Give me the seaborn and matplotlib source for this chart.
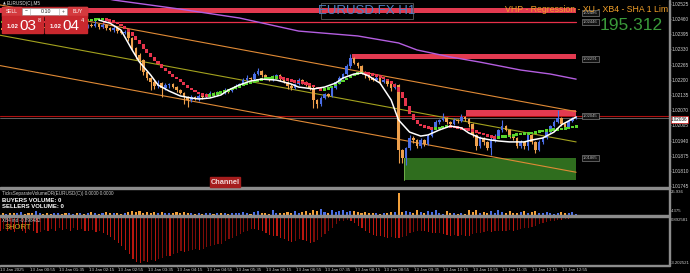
import numpy as np
import matplotlib
matplotlib.use("Agg")
import matplotlib.pyplot as plt
import seaborn as sns
from matplotlib.patches import Rectangle

# ---------------- data (prices in points, 1 point = 0.00001) ----------------
open0_pts = 102426
close_pts = [
    102422, 102413, 102426, 102418, 102409, 102422, 102431, 102418, 102413, 102405,
    102418, 102426, 102422, 102413, 102409, 102418, 102426, 102422, 102413, 102418,
    102426, 102422, 102431, 102426, 102435, 102431, 102439, 102426, 102435, 102422,
    102413, 102422, 102409, 102401, 102405, 102379, 102336, 102306, 102285, 102233,
    102208, 102191, 102174, 102186, 102165, 102178, 102182, 102169, 102156, 102144,
    102126, 102114, 102126, 102118, 102131, 102126, 102139, 102144, 102135, 102148,
    102144, 102156, 102152, 102165, 102174, 102182, 102199, 102208, 102203, 102225,
    102238, 102221, 102208, 102199, 102212, 102221, 102203, 102191, 102174, 102165,
    102182, 102199, 102191, 102178, 102165, 102114, 102096, 102122, 102139, 102131,
    102165, 102191, 102208, 102225, 102259, 102293, 102272, 102259, 102233, 102221,
    102208, 102199, 102208, 102191, 102199, 102182, 102165, 102178, 101899, 101865,
    101908, 101951, 101942, 101916, 101942, 101925, 101959, 101994, 102019, 102028,
    102036, 102019, 102011, 102028, 102024, 102041, 102032, 102011, 101964, 101916,
    101951, 101934, 101908, 101942, 101959, 101985, 102002, 101985, 101964, 101951,
    101916, 101934, 101916, 101964, 101934, 101899, 101934, 101951, 101976, 102002,
    102019, 102036, 102011, 101998, 102024, 102036, 102041]
upper_wick_pts = [
    6, 4, 9, 4, 6, 4, 9, 6, 4, 6,
    4, 9, 6, 4, 6, 9, 4, 6, 4, 6,
    9, 4, 6, 4, 6, 9, 26, 6, 9, 4,
    6, 9, 4, 6, 9, 4, 6, 4, 9, 6,
    4, 6, 9, 13, 6, 9, 6, 4, 6, 4,
    6, 4, 9, 6, 9, 4, 6, 9, 4, 6,
    4, 9, 6, 4, 9, 6, 9, 13, 6, 9,
    13, 6, 4, 6, 9, 6, 4, 6, 4, 9,
    6, 9, 4, 6, 4, 9, 6, 9, 6, 4,
    9, 6, 9, 6, 9, 17, 6, 4, 6, 4,
    6, 4, 9, 6, 9, 4, 6, 9, 4, 6,
    4, 13, 9, 6, 9, 4, 9, 6, 9, 6,
    21, 6, 4, 9, 6, 13, 6, 4, 6, 4,
    9, 6, 4, 13, 9, 6, 26, 4, 6, 4,
    6, 9, 4, 13, 6, 4, 9, 6, 9, 6,
    9, 34, 6, 4, 9, 6, 4]
lower_wick_pts = [
    4, 6, 4, 9, 4, 6, 4, 9, 6, 4,
    6, 4, 9, 6, 4, 6, 4, 9, 6, 4,
    6, 9, 4, 6, 4, 6, 4, 9, 6, 9,
    4, 6, 9, 4, 6, 13, 9, 17, 43, 13,
    9, 34, 13, 9, 38, 9, 13, 6, 9, 6,
    30, 30, 9, 6, 9, 6, 4, 9, 6, 4,
    6, 4, 9, 6, 4, 6, 4, 6, 9, 4,
    6, 9, 4, 6, 4, 6, 9, 4, 13, 9,
    6, 4, 9, 6, 9, 34, 17, 9, 6, 4,
    6, 4, 9, 4, 6, 9, 6, 9, 6, 13,
    9, 6, 4, 9, 6, 9, 13, 6, 56, 21,
    30, 9, 13, 9, 6, 9, 6, 4, 6, 9,
    6, 9, 6, 4, 9, 6, 9, 13, 9, 17,
    9, 13, 9, 30, 9, 6, 9, 6, 13, 9,
    9, 6, 13, 17, 9, 13, 6, 9, 6, 4,
    6, 4, 9, 6, 4, 6, 4]
sha_pts = [
    102448, 102448, 102443, 102448, 102452, 102448, 102448, 102443, 102448, 102448,
    102452, 102448, 102448, 102443, 102448, 102448, 102452, 102452, 102448, 102448,
    102452, 102452, 102456, 102456, 102456, 102456, 102461, 102461, 102461, 102456,
    102452, 102448, 102439, 102431, 102418, 102405, 102388, 102371, 102353, 102332,
    102315, 102298, 102281, 102268, 102251, 102238, 102225, 102212, 102203, 102191,
    102178, 102165, 102156, 102148, 102139, 102135, 102131, 102135, 102139, 102144,
    102148, 102152, 102156, 102165, 102169, 102174, 102182, 102186, 102191, 102195,
    102199, 102203, 102208, 102208, 102210, 102212, 102208, 102203, 102199, 102195,
    102191, 102189, 102186, 102182, 102178, 102169, 102161, 102156, 102161, 102165,
    102174, 102182, 102191, 102199, 102208, 102216, 102225, 102229, 102231, 102229,
    102225, 102221, 102216, 102212, 102203, 102195, 102182, 102169, 102148, 102122,
    102088, 102054, 102028, 102011, 102002, 101998, 101994, 101991, 101993, 101996,
    101998, 102000, 101998, 101996, 101994, 101991, 101989, 101985, 101981, 101974,
    101970, 101966, 101959, 101955, 101953, 101955, 101957, 101959, 101961, 101964,
    101966, 101968, 101970, 101972, 101974, 101976, 101979, 101981, 101983, 101985,
    101987, 101989, 101991, 101993, 101996, 101998, 102000]
white_bars = [27, 30, 33, 36, 38, 41, 43, 46, 49, 52, 54, 57, 60, 62, 65, 68, 71, 75, 79, 81,
              85, 88, 91, 93, 96, 98, 100, 103, 106, 108, 111, 114, 116, 119, 122, 125, 127,
              130, 133, 135, 138, 142, 144, 147, 150, 152, 156]
white_pts = [102456, 102443, 102413, 102328, 102276, 102221, 102178, 102152, 102131, 102122,
             102118, 102122, 102135, 102156, 102178, 102195, 102203, 102199, 102182, 102169,
             102161, 102169, 102186, 102208, 102225, 102229, 102216, 102186, 102114, 102028,
             101976, 101959, 101964, 101985, 102002, 101994, 101972, 101951, 101942, 101938,
             101934, 101934, 101942, 101951, 101976, 102007, 102041]
ma_bars = [22, 31, 49, 65, 81, 97, 108, 113, 122, 130, 141, 149, 156]
ma_pts = [102572, 102542, 102503, 102465, 102409, 102388, 102358, 102328, 102298, 102276,
          102242, 102225, 102203]
chan_bars = [0, 156]
chan_mid_pts = [102392, 101934]
chan_half_width_pts = 130
# zones: (start bar, end bar, top, bottom, label level)
red_zones = [(0, 156, 102508, 102486, 102486),
             (95.4, 156, 102311, 102291, 102291),
             (126.2, 156, 102071, 102045, 102045)]
red_line = (28.1, 156, 102446, 102422)
green_zone = (109.5, 156, 101865, 101771, 101865)
ask_pts, bid_pts = 102045, 102036
volume = [
    1.2, 2.0, 1.5, 2.5, 1.8, 2.2, 3.0, 1.5, 2.0, 2.5,
    4.5, 2.0, 1.5, 2.8, 1.2, 2.0, 2.5, 1.0, 1.8, 2.2,
    1.5, 2.0, 2.8, 1.4, 2.5, 3.5, 2.0, 1.5, 2.0, 3.0,
    2.5, 1.8, 2.2, 1.5, 2.8, 3.5, 4.5, 3.0, 4.0, 2.5,
    3.5, 2.5, 3.0, 2.2, 3.8, 2.0, 2.5, 1.8, 3.0, 2.2,
    3.5, 2.5, 2.0, 1.5, 2.8, 1.2, 1.8, 2.0, 1.5, 2.5,
    1.8, 2.2, 1.5, 2.0, 2.5, 1.8, 3.0, 2.2, 1.5, 3.5,
    4.0, 2.5, 2.0, 1.5, 5.5, 2.0, 1.8, 2.5, 3.0, 2.0,
    5.0, 2.5, 3.0, 4.0, 2.5, 5.5, 4.5, 6.5, 3.5, 2.5,
    6.0, 3.5, 4.0, 5.5, 3.5, 5.0, 4.5, 3.0, 2.5, 3.0,
    2.0, 2.5, 2.0, 1.5, 2.5, 2.0, 3.0, 3.5, 25.0, 3.0,
    5.0, 3.5, 2.5, 6.0, 3.0, 2.5, 5.0, 3.0, 6.0, 2.0,
    1.5, 4.5, 1.8, 2.0, 1.5, 2.5, 1.2, 5.5, 3.5, 6.0,
    2.5, 3.5, 2.0, 4.0, 2.5, 5.5, 3.0, 2.5, 4.0, 2.0,
    2.5, 3.0, 4.5, 2.5, 3.5, 5.0, 2.5, 2.0, 3.0, 2.5,
    1.5, 2.5, 3.0, 2.0, 2.5, 3.5, 1.5]
xb4 = [
    -0.95, -0.85, -1.0, -0.9, -1.05, -0.8, -0.95, -1.1, -0.9, -1.0,
    -1.15, -1.05, -0.9, -1.0, -0.85, -0.95, -0.8, -0.9, -0.85, -0.95,
    -0.8, -0.9, -0.85, -0.95, -1.0, -0.9, -1.05, -1.0, -1.1, -1.25,
    -1.4, -1.6, -1.8, -2.0, -2.3, -2.6, -2.9, -3.15, -3.2, -3.1,
    -3.15, -3.0, -3.05, -2.9, -2.85, -2.7, -2.75, -2.6, -2.5, -2.4,
    -2.45, -2.35, -2.3, -2.25, -2.3, -2.2, -2.1, -2.05, -1.95, -1.9,
    -1.85, -1.7, -1.55, -1.45, -1.3, -1.2, -1.05, -0.95, -0.85, -0.85,
    -0.9, -0.95, -1.1, -1.25, -1.3, -1.35, -1.45, -1.55, -1.7, -1.75,
    -1.65, -1.55, -1.6, -1.7, -1.8, -1.75, -1.6, -1.4, -1.2, -0.95,
    -0.75, -0.5, -0.3, -0.25, -0.2, -0.25, -0.4, -0.6, -0.8, -1.0,
    -1.15, -1.25, -1.3, -1.35, -1.4, -1.45, -1.4, -1.45, -1.5, -1.4,
    -1.3, -1.15, -1.05, -1.0, -0.95, -1.0, -1.05, -1.1, -1.15, -1.1,
    -1.2, -1.25, -1.3, -1.25, -1.3, -1.25, -1.3, -1.3, -1.2, -1.15,
    -1.1, -1.05, -1.0, -1.05, -1.0, -0.95, -1.0, -0.95, -0.9, -0.95,
    -0.9, -0.85, -0.8, -0.75, -0.7, -0.6, -0.5, -0.4, -0.35, -0.3,
    -0.25, -0.2, -0.2, -0.15, -0.15, -0.1, -0.08]
price_ticks = [1.02525, 1.02460, 1.02395, 1.02330, 1.02265, 1.02200, 1.02135,
               1.02070, 1.02005, 1.01940, 1.01875, 1.01810, 1.01745]
time_tick_bars = [0, 8, 16, 24, 32, 40, 48, 56, 64, 72, 80, 88, 96, 104, 112, 120, 128, 136, 144, 152]
time_labels = ["13 Jan 2025", "13 Jan 00:55", "13 Jan 01:35", "13 Jan 02:15", "13 Jan 02:55",
               "13 Jan 03:35", "13 Jan 04:15", "13 Jan 04:55", "13 Jan 05:35", "13 Jan 06:15",
               "13 Jan 06:55", "13 Jan 07:35", "13 Jan 08:15", "13 Jan 08:55", "13 Jan 09:35",
               "13 Jan 10:15", "13 Jan 10:55", "13 Jan 11:35", "13 Jan 12:15", "13 Jan 12:55"]

# ---------------- style ----------------
sns.set_theme(style="dark")
plt.rcParams["font.family"] = ["Liberation Sans", "DejaVu Sans"]
BULL, BEAR = "#4a6ee6", "#eea04c"
SHA_R, SHA_G = "#e6344c", "#58d42c"

P = lambda a: np.asarray(a, dtype=float) / 1e5
close = P(close_pts)
opn = np.r_[open0_pts / 1e5, close[:-1]]
idx = np.arange(len(close))
bull = close >= opn
ccol = np.where(bull, BULL, BEAR)
hi = np.maximum(opn, close) + P(upper_wick_pts)
lo = np.minimum(opn, close) - P(lower_wick_pts)

W, H = 690, 273
fig = plt.figure(figsize=(W / 100, H / 100), dpi=100, facecolor="black")


def fr(x0, y0, x1, y1):
    return [x0 / W, 1 - y1 / H, (x1 - x0) / W, (y1 - y0) / H]


ax = fig.add_axes(fr(0, 0, 669, 187))
axv = fig.add_axes(fr(0, 189, 669, 215))
axi = fig.add_axes(fr(0, 217, 669, 265))
XL = (0.297, 181.1)
for a in (ax, axv, axi):
    a.set_facecolor("black")
    a.set_xlim(*XL)
    for s in a.spines.values():
        s.set_visible(False)
    a.grid(False)

ax.set_ylim(1.025421 - 0.00004285 * 187, 1.025421)

# regression channel
cm = P(chan_mid_pts)
cw = chan_half_width_pts / 1e5
sns.lineplot(x=chan_bars, y=cm, ax=ax, color="#a3a21e", linewidth=0.8, zorder=2)
sns.lineplot(x=chan_bars, y=cm + cw, ax=ax, color="#e08a36", linewidth=0.8, zorder=2)
sns.lineplot(x=chan_bars, y=cm - cw, ax=ax, color="#e08a36", linewidth=0.8, zorder=2)

# MA
sns.lineplot(x=ma_bars, y=P(ma_pts), ax=ax, color="#b45ee0", linewidth=1.0, zorder=2)

# zones
for (s, e, t, b, lv) in red_zones:
    ax.add_patch(Rectangle((s, b / 1e5), e - s, (t - b) / 1e5, facecolor="#e23a50",
                           edgecolor="none", zorder=1.5))
s, e, lvl, bottom_v = red_line
ax.plot([s, e], [lvl / 1e5, lvl / 1e5], color="#e8304a", lw=0.9, zorder=1.5)
ax.plot([s, s], [lvl / 1e5, bottom_v / 1e5], color="#e8304a", lw=0.9, zorder=1.5)
gs, ge, gt, gb, glv = green_zone
ax.add_patch(Rectangle((gs, gb / 1e5), ge - gs, (gt - gb) / 1e5, facecolor="#2f6d1e",
                       edgecolor="none", zorder=1.5))
ax.plot([gs, gs], [gb / 1e5, gt / 1e5], color="#6fae4a", lw=0.7, zorder=1.6)

# bid/ask lines
ax.axhline(ask_pts / 1e5, color="#b01010", lw=0.8, zorder=1.4)
ax.axhline(bid_pts / 1e5, color="#707070", lw=0.6, zorder=1.4)

# candles
ax.vlines(idx, lo, hi, colors=ccol, lw=0.8, zorder=3)
body_h = np.maximum(np.abs(close - opn), 0.00003)
ax.bar(idx, body_h, bottom=np.minimum(opn, close), width=0.7, color=ccol, linewidth=0, zorder=3.1)

# smoothed heiken ashi
sha = P(sha_pts)
sho = np.r_[sha[0], sha[:-1]]
d = sha - sho
scol, prev = [], SHA_G
for v in d:
    if v > 0:
        prev = SHA_G
    elif v < 0:
        prev = SHA_R
    scol.append(prev)
sh_h = np.maximum(np.abs(d), 0.00011)
ax.bar(idx, sh_h, bottom=(sha + sho) / 2 - sh_h / 2, width=0.82, color=scol, linewidth=0, zorder=4)

# white smooth line
sns.lineplot(x=white_bars, y=P(white_pts), ax=ax, color="white", linewidth=1.1, zorder=5)

# zone labels
for lv in [z[4] for z in red_zones] + [red_line[2], glv]:
    ax.text(159.8, lv / 1e5, f"{lv / 1e5:.5f}", fontsize=3.0, color="#bbbbbb", ha="center",
            va="center", zorder=6,
            bbox=dict(boxstyle="square,pad=0.25", fc="#111111", ec="#9a9a9a", lw=0.4))

ax.set_yticks(price_ticks)
ax.set_yticklabels([f"{t:.5f}" for t in price_ticks])
ax.yaxis.tick_right()
ax.tick_params(axis="y", right=True, left=False, labelright=True, labelleft=False,
               labelsize=3.4, labelcolor="#d0d0d0", color="#aaaaaa", length=1.5, width=0.4, pad=0.6)
ax.set_xticks([])
ax.set_xlabel("")
ax.set_ylabel("")
ax.annotate(f"{bid_pts / 1e5:.5f}", xy=(1.0, bid_pts / 1e5), xycoords=("axes fraction", "data"),
            xytext=(1.5, -1), textcoords="offset points", fontsize=3.3, color="black",
            va="center", ha="left", annotation_clip=False,
            bbox=dict(boxstyle="square,pad=0.12", fc="white", ec="#cc1010", lw=0.5))

# volume panel
vcol = np.where(bull, "#4a6ee6", "#f2a03a")
axv.bar(idx, volume, width=0.55, color=vcol, linewidth=0)
axv.set_ylim(0, 29.32)
axv.set_xticks([])
axv.set_yticks([])

# XB4 panel
icol = ["#b8160e" if (i == 0 or xb4[i] <= xb4[i - 1]) else "#7c0c08" for i in range(len(xb4))]
axi.bar(idx, xb4, width=0.32, color=icol, linewidth=0)
axi.set_ylim(-3.35, 0)
axi.set_yticks([])
axi.set_xticks(time_tick_bars)
axi.set_xticklabels(time_labels, ha="left")
axi.tick_params(axis="x", bottom=True, labelsize=3.2, labelcolor="#d0d0d0", color="#aaaaaa",
                length=1.5, width=0.4, pad=0.5)

# ---------------- overlay (pixel coordinates) ----------------
ao = fig.add_axes([0, 0, 1, 1])
ao.set_xlim(0, W)
ao.set_ylim(H, 0)
ao.axis("off")
ao.patch.set_alpha(0)
ao.set_zorder(10)

grey = "#8c8c8c"
for y0 in (187, 215):
    ao.add_patch(Rectangle((0, y0), 669, 2, color=grey))
ao.add_patch(Rectangle((0, 265), 669, 1, color=grey))
ao.add_patch(Rectangle((669, 0), 1, 266, color=grey))

# top-left symbol caption
ao.text(3, 3.5, "▲", fontsize=2.6, color="#cccccc", va="center", family="DejaVu Sans")
ao.text(7, 3.5, "EURUSD(C),M5", fontsize=3.3, color="#dddddd", va="center")

# trade widget
wred, bred = "#c9282e", "#d43a3e"
ao.add_patch(Rectangle((2, 7), 85, 8.5, color="#b82226", zorder=2))
ao.add_patch(Rectangle((2, 7), 19, 8.5, color=bred, zorder=3))
ao.add_patch(Rectangle((68, 7), 19, 8.5, color=bred, zorder=3))
ao.add_patch(Rectangle((22, 7.5), 45, 7.5, facecolor="white", edgecolor="#999999", lw=0.4, zorder=3))
ao.plot([30, 30], [7.5, 15], color="#aaaaaa", lw=0.4, zorder=4)
ao.plot([59, 59], [7.5, 15], color="#aaaaaa", lw=0.4, zorder=4)
ao.text(11.5, 11.3, "SELL", fontsize=3.6, color="white", ha="center", va="center", zorder=5)
ao.text(77.5, 11.3, "BUY", fontsize=3.6, color="white", ha="center", va="center", zorder=5)
ao.text(26, 11.3, "−", fontsize=3.6, color="#444444", ha="center", va="center", zorder=5)
ao.text(63, 11.3, "+", fontsize=3.6, color="#444444", ha="center", va="center", zorder=5)
ao.text(51, 11.3, "0.10", fontsize=3.8, color="#222222", ha="right", va="center", zorder=5)
ao.add_patch(Rectangle((2, 16), 41, 16.5, color=wred, zorder=3))
ao.add_patch(Rectangle((45, 16), 42, 16.5, color=wred, zorder=3))
for x0, big, sup in ((6.5, "03", "8"), (49.5, "04", "4")):
    ao.text(x0, 28.5, "1.02", fontsize=4.4, color="white", weight="bold", va="baseline", zorder=5)
    ao.text(x0 + 13, 29.5, big, fontsize=11, color="white", va="baseline", zorder=5)
    ao.text(x0 + 31.5, 21.5, sup, fontsize=4, color="white", va="baseline", zorder=5)

# chart title
ao.add_patch(Rectangle((321, 3), 92, 16, fill=False, edgecolor="#5a5a5a", lw=0.6))
ao.text(367, 11.5, "EURUSD.FX H1", fontsize=9.5, color="#4f80c4", ha="center", va="center")
ao.text(505, 9.5, "VHP - Regression - XU - XB4 - SHA 1 Lim", fontsize=6.3, color="#f2a02a",
        ha="left", va="center", clip_on=True)
ao.text(600, 30, "195.312", fontsize=12.5, color="#3a9a3a", ha="left", va="baseline")

# channel tag
ao.add_patch(Rectangle((210, 177), 30, 10, color="#a51d1d"))
ao.text(225, 182.3, "Channel", fontsize=5.3, color="#f3d6d6", weight="bold", ha="center", va="center")

# sub-window captions
ao.text(2, 193, "TicksSeparateVolumeDR(EURUSD(C)) 0.0000 0.0000", fontsize=3.3, color="#cccccc", va="center")
ao.text(2, 200, "BUYERS VOLUME: 0", fontsize=4.3, color="white", weight="bold", va="center")
ao.text(2, 206.5, "SELLERS VOLUME: 0", fontsize=4.3, color="white", weight="bold", va="center")
ao.text(2, 220.5, "XB4 ind -0.898482", fontsize=3.3, color="#cccccc", va="center")
ao.text(5, 227.5, "SHORT", fontsize=5.5, color="#c8b020", va="center")

# right-scale captions for sub-windows
for yv, s in ((192, "25.936"), (211.5, "4.375"), (220, "0.892581"), (263, "-3.202521")):
    ao.text(670.5, yv, s, fontsize=3.1, color="#cccccc", va="center", ha="left")

fig.savefig("out.png", dpi=100, facecolor="black")
